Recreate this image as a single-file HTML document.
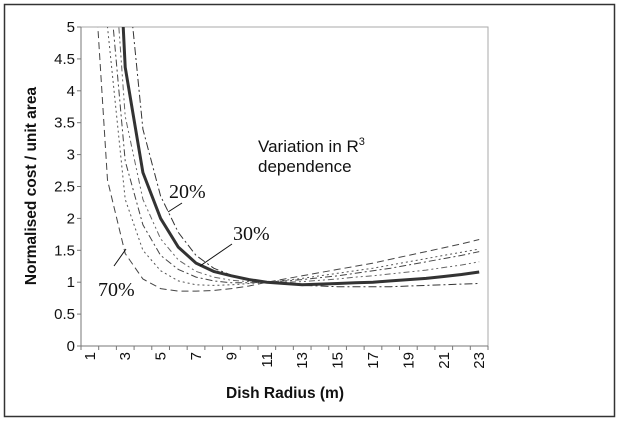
<!DOCTYPE html>
<html><head><meta charset="utf-8"><style>
html,body{margin:0;padding:0;background:#fff;}
svg{display:block;font-family:"Liberation Sans",Arial,sans-serif;}
</style></head><body>
<svg id="chart" width="622" height="425" viewBox="0 0 622 425">
<rect x="4.5" y="4.5" width="610" height="412" fill="#fff" stroke="#333" stroke-width="1.5"/>
<g id="plot"></g>
<text x="258" y="152" font-size="17" fill="#111">Variation in R<tspan font-size="11" dy="-7">3</tspan></text>
<text x="258" y="172" font-size="17" fill="#111">dependence</text>
<text x="169" y="198" font-size="20" font-family="Liberation Serif,serif" fill="#111">20%</text>
<line x1="168" y1="212" x2="182" y2="203" stroke="#111" stroke-width="1"/>
<text x="233" y="240" font-size="20" font-family="Liberation Serif,serif" fill="#111">30%</text>
<line x1="200" y1="266" x2="232" y2="244" stroke="#111" stroke-width="1"/>
<text x="98" y="296" font-size="20" font-family="Liberation Serif,serif" fill="#111">70%</text>
<line x1="114" y1="266" x2="126" y2="249" stroke="#111" stroke-width="1"/>
<text x="285" y="398" font-size="15.5" font-weight="bold" text-anchor="middle" fill="#111">Dish Radius (m)</text>
<text transform="translate(36,186) rotate(-90)" font-size="15.5" font-weight="bold" text-anchor="middle" fill="#111">Normalised cost / unit area</text>
</svg>
<script>
const categories = [1,2,3,4,5,6,7,8,9,10,11,12,13,14,15,16,17,18,19,20,21,22,23];
const yTicks = [0,0.5,1,1.5,2,2.5,3,3.5,4,4.5,5];
const series30 = [20,10,4.37,2.72,2.0,1.55,1.3,1.17,1.1,1.04,1.0,0.98,0.96,0.97,0.98,0.99,1.0,1.02,1.04,1.06,1.09,1.12,1.16];
const series20 = [30,14,6.2,3.4,2.35,1.78,1.42,1.22,1.11,1.04,1.0,0.97,0.95,0.94,0.93,0.93,0.93,0.93,0.94,0.95,0.96,0.97,0.98];
const series40 = [16,7.5,3.6,2.3,1.68,1.35,1.17,1.08,1.03,1.01,1.0,1.0,1.01,1.03,1.05,1.08,1.1,1.13,1.16,1.19,1.23,1.27,1.32];
const series50 = [12,6.0,2.9,1.9,1.42,1.2,1.08,1.02,0.99,0.99,1.0,1.02,1.04,1.07,1.1,1.14,1.18,1.22,1.27,1.32,1.37,1.42,1.48];
const series60 = [9,5.0,2.3,1.5,1.18,1.02,0.96,0.95,0.96,0.98,1.0,1.03,1.06,1.1,1.14,1.18,1.22,1.27,1.32,1.37,1.42,1.47,1.52];
const series70 = [7,2.6,1.45,1.05,0.9,0.86,0.86,0.87,0.9,0.94,1.0,1.05,1.1,1.15,1.2,1.25,1.3,1.36,1.42,1.48,1.54,1.6,1.67];
const NS='http://www.w3.org/2000/svg';
const L=81,R=488,T=27,B=346,ymax=5;
const bw=(R-L)/categories.length;
function xs(i){return L+bw*(i+0.5);}
function ys(v){return B-(v/ymax)*(B-T);}
const g=document.getElementById('plot');
function mk(tag,attrs){const e=document.createElementNS(NS,tag);for(const k in attrs)e.setAttribute(k,attrs[k]);g.appendChild(e);return e;}
const cp=document.createElementNS(NS,'clipPath');cp.setAttribute('id','clip');
const cr=document.createElementNS(NS,'rect');cr.setAttribute('x',L);cr.setAttribute('y',T);cr.setAttribute('width',R-L);cr.setAttribute('height',B-T);cp.appendChild(cr);g.appendChild(cp);
const frame=mk('rect',{x:L,y:T,width:R-L,height:B-T,fill:'none',stroke:'#aaa','stroke-width':1});


const ya=mk('line',{x1:L,y1:T,x2:L,y2:B,stroke:'#777','stroke-width':1});


const xa=mk('line',{x1:L,y1:B,x2:R,y2:B,stroke:'#777','stroke-width':1});


yTicks.forEach(v=>{
  const t=mk('line',{x1:L-4,y1:ys(v),x2:L,y2:ys(v),stroke:'#777'});
  
  
  const tx=mk('text',{x:L-6,y:ys(v)+5,'font-size':15,'text-anchor':'end',fill:'#111'});
  tx.textContent=String(v);
  
  
});
for(let i=0;i<=categories.length;i++){
  const t=mk('line',{x1:L+bw*i,y1:B,x2:L+bw*i,y2:B+4,stroke:'#777'});
  
  
}
categories.forEach((c,i)=>{
  if(c%2===0)return;
  const tx=mk('text',{transform:`translate(${xs(i)+5},352) rotate(-90)`,'font-size':15,'text-anchor':'end',fill:'#111'});
  tx.textContent=String(c);
  
  
});
const defs=[
 [series70,'70-percent','#444',1,'7,4'],
 [series60,'60-percent','#555',1,'2,3'],
 [series50,'50-percent','#444',1,'7,3,2,3'],
 [series40,'40-percent','#666',1,'6,3,2,3,2,3'],
 [series20,'20-percent','#333',1,'8,3,2,3'],
 [series30,'30-percent','#333',3,'']
];
defs.forEach(d=>{
  const pts=d[0].map((v,i)=>xs(i).toFixed(1)+','+ys(v).toFixed(1)).join(' ');
  const p=mk('polyline',{points:pts,fill:'none',stroke:d[2],'stroke-width':d[3],'clip-path':'url(#clip)'});
  if(d[4])p.setAttribute('stroke-dasharray',d[4]);
  
  
});
</script>
</body></html>
